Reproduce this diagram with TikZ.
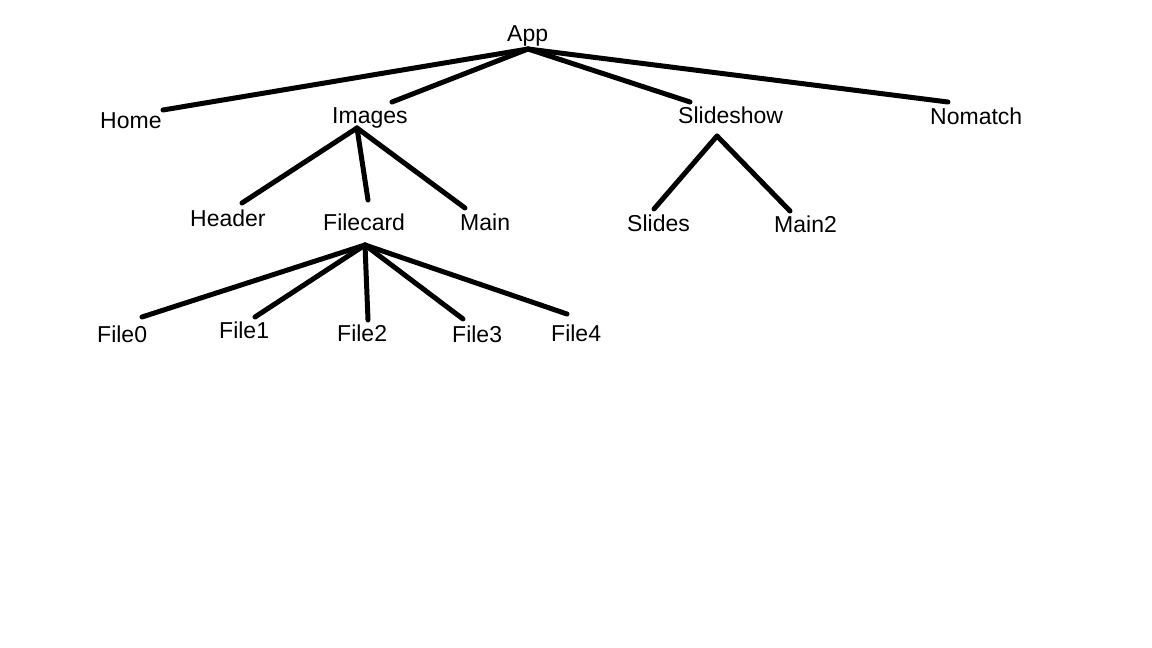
\documentclass[tikz,border=0pt]{standalone}
\usepackage{fontspec}
\setmainfont{Liberation Sans}
\begin{document}
\begin{tikzpicture}[x=1pt,y=-1pt,
  lbl/.style={inner sep=0pt,anchor=base west,font=\fontsize{23}{26}\selectfont},
  edge/.style={line width=5pt,line cap=round,line join=round}]
\useasboundingbox[fill=white] (0,0) rectangle (1152,648);
% labels
\node[lbl] (app) at (507,41) {App};
\node[lbl] (home) at (100,128) {Home};
\node[lbl] (images) at (332,123) {Images};
\node[lbl] (slideshow) at (678,123) {Slideshow};
\node[lbl] (nomatch) at (930,124) {Nomatch};
\node[lbl] (header) at (190,226) {Header};
\node[lbl] (filecard) at (323,230) {Filecard};
\node[lbl] (main) at (460,230) {Main};
\node[lbl] (slides) at (627,231) {Slides};
\node[lbl] (main2) at (774,232) {Main2};
\node[lbl] (file0) at (97,342) {File0};
\node[lbl] (file1) at (219,338) {File1};
\node[lbl] (file2) at (337,341) {File2};
\node[lbl] (file3) at (452,342) {File3};
\node[lbl] (file4) at (551,341) {File4};
% connector end points
\coordinate (appB) at (528,49);
\coordinate (homeT) at (163,110);
\coordinate (imagesT) at (392,102);
\coordinate (slideshowT) at (690,102);
\coordinate (nomatchT) at (948,102);
\coordinate (imagesB) at (357,128);
\coordinate (headerT) at (242,203);
\coordinate (filecardT) at (368,200);
\coordinate (mainT) at (465,208);
\coordinate (slideshowB) at (717,136);
\coordinate (slidesT) at (654,209);
\coordinate (main2T) at (790,211);
\coordinate (filecardB) at (365,245);
\coordinate (file0T) at (142,317);
\coordinate (file1T) at (255,317);
\coordinate (file2T) at (368,320);
\coordinate (file3T) at (463,319);
\coordinate (file4T) at (567,314);
% connectors
\draw[edge] (appB) -- (homeT);
\draw[edge] (appB) -- (imagesT);
\draw[edge] (appB) -- (slideshowT);
\draw[edge] (appB) -- (nomatchT);
\draw[edge] (imagesB) -- (headerT);
\draw[edge] (imagesB) -- (filecardT);
\draw[edge] (imagesB) -- (mainT);
\draw[edge] (slideshowB) -- (slidesT);
\draw[edge] (slideshowB) -- (main2T);
\draw[edge] (filecardB) -- (file0T);
\draw[edge] (filecardB) -- (file1T);
\draw[edge] (filecardB) -- (file2T);
\draw[edge] (filecardB) -- (file3T);
\draw[edge] (filecardB) -- (file4T);
\end{tikzpicture}
\end{document}
